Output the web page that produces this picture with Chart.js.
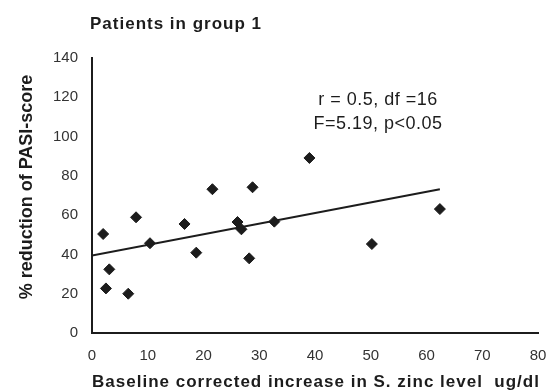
<!DOCTYPE html>
<html>
<head>
<meta charset="utf-8">
<script src="https://cdn.jsdelivr.net/npm/chart.js@4.4.0/dist/chart.umd.min.js"></script>
<style>
  html, body { margin: 0; padding: 0; background: #fff; }
  #wrap { width: 548px; height: 391px; }
</style>
</head>
<body>
<div id="wrap"><canvas id="scatterChart"></canvas></div>
<script>
// zinc increase (ug/dl) vs % reduction of PASI-score, group 1
const zincIncrease = [2.0, 2.5, 3.1, 6.5, 7.9, 10.4, 16.6, 18.7, 21.6, 26.1, 26.8, 28.2, 28.8, 32.7, 39.0, 50.2, 62.4];
const pasiReduction = [50.4, 22.7, 32.4, 20.0, 58.9, 45.7, 55.5, 40.9, 73.2, 56.5, 52.8, 38.0, 74.2, 56.7, 89.1, 45.3, 63.1];
const trendX = [0, 62.4];
const trendY = [39.5, 73.2];
const xTicks = [0, 10, 20, 30, 40, 50, 60, 70, 80];
const yTicks = [0, 20, 40, 60, 80, 100, 120, 140];
const statsText = ["r = 0.5, df =16", "F=5.19, p<0.05"];

const ink = "#1c1c1c";
const fontFam = "'Liberation Sans', Arial, sans-serif";

// title, stats box and axis titles drawn by hand (need letter spacing)
const textPlugin = {
    id: "textPlugin",
    afterDraw(chart) {
        const ctx = chart.ctx;
        ctx.save();
        ctx.fillStyle = ink;
        ctx.textBaseline = "middle";

        ctx.font = "bold 17px " + fontFam;
        ctx.letterSpacing = "1px";
        ctx.textAlign = "left";
        ctx.fillText("Patients in group 1", 90, 24);

        ctx.font = "18px " + fontFam;
        ctx.letterSpacing = "0.5px";
        ctx.textAlign = "center";
        ctx.fillText(statsText[0], 378, 100);
        ctx.fillText(statsText[1], 378, 124);

        ctx.font = "bold 17px " + fontFam;
        ctx.letterSpacing = "1px";
        ctx.fillText("Baseline corrected increase in S. zinc level  ug/dl", 316, 382);

        ctx.translate(27, 187);
        ctx.rotate(-Math.PI / 2);
        ctx.font = "bold 18px " + fontFam;
        ctx.letterSpacing = "0px";
        ctx.fillText("% reduction of PASI-score", 0, 0);
        ctx.restore();
    }
};

new Chart(document.getElementById("scatterChart"), {
    type: "scatter",
    data: {
        datasets: [
            {
                data: zincIncrease.map((x, i) => ({ x: x, y: pasiReduction[i] })),
                pointStyle: "rectRot",
                pointRadius: 5.5,
                backgroundColor: ink,
                borderColor: ink
            },
            {
                type: "line",
                data: trendX.map((x, i) => ({ x: x, y: trendY[i] })),
                borderColor: ink,
                borderWidth: 2,
                pointRadius: 0,
                fill: false
            }
        ]
    },
    options: {
        responsive: true,
        maintainAspectRatio: false,
        animation: false,
        layout: { padding: { top: 58, right: 10, left: 0, bottom: 0 } },
        plugins: {
            legend: { display: false },
            tooltip: { enabled: false }
        },
        scales: {
            x: {
                type: "linear",
                min: 0,
                max: 80,
                afterBuildTicks: (scale) => { scale.ticks = xTicks.map(v => ({ value: v })); },
                afterFit: (scale) => {
                    scale.height = 58;
                    scale.paddingLeft = 0;
                    scale.paddingRight = 0;
                },
                grid: { display: false, drawTicks: true, tickLength: 5, color: ink },
                border: { display: true, color: ink, width: 2 },
                ticks: {
                    color: "#333",
                    font: { size: 15, family: fontFam },
                    padding: 9,
                    maxRotation: 0
                }
            },
            y: {
                type: "linear",
                min: 0,
                max: 140,
                afterBuildTicks: (scale) => { scale.ticks = yTicks.map(v => ({ value: v })); },
                afterFit: (scale) => { scale.width = 92; },
                grid: { display: false, drawTicks: true, tickLength: 5, color: ink },
                border: { display: true, color: ink, width: 2 },
                ticks: {
                    color: "#333",
                    font: { size: 15, family: fontFam },
                    padding: 9
                }
            }
        }
    },
    plugins: [textPlugin]
});
</script>
</body>
</html>
